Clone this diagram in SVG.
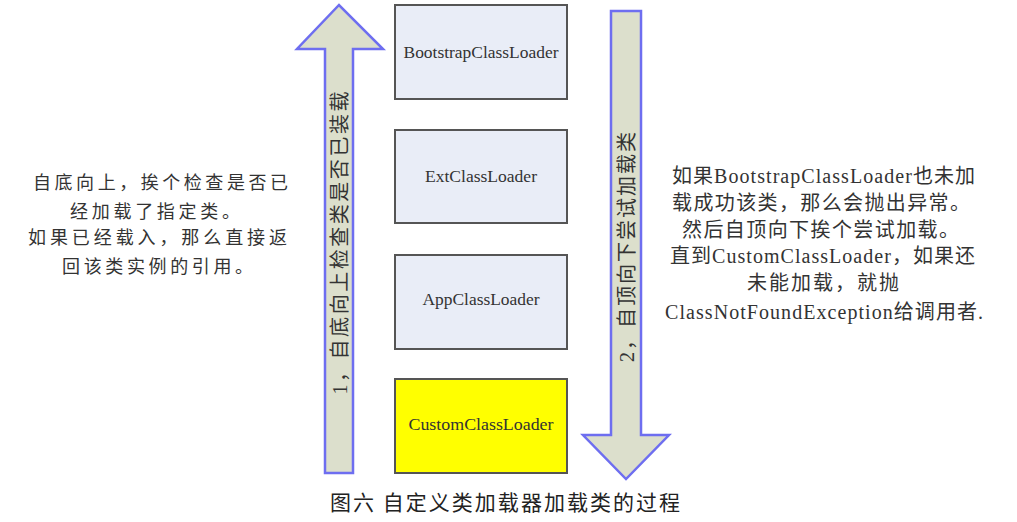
<svg xmlns="http://www.w3.org/2000/svg" width="1017" height="522" viewBox="0 0 1017 522">
<style>
.box{stroke:#555;stroke-width:2;fill:#e9edf7}
.cust{fill:#ffff00}
.lbl{font-family:"Liberation Serif","Noto Sans CJK SC",serif;font-size:17px;fill:#333;text-anchor:middle}
.arrow{fill:#dcdfcc;stroke:#6e6ef0;stroke-width:2.5;stroke-linejoin:miter}
.atxt{font-family:"Liberation Serif","Noto Sans CJK SC",sans-serif;font-size:20px;fill:#333;text-anchor:middle;dominant-baseline:central}
.note{font-family:"Noto Sans CJK SC",sans-serif;font-size:18px;fill:#333}
.rnote{font-family:"Liberation Serif","Noto Sans CJK SC",serif;font-size:20px;fill:#333}
.cap{font-family:"Noto Sans CJK SC",sans-serif;font-size:21px;fill:#222}
</style>
<rect width="1017" height="522" fill="#fff"/>
<g id="connectors">
<g id="arrow-up">
<polygon class="arrow" points="325,473 325,49 297,49 339,5 383,49 353,49 353,473"/>
<text class="atxt" transform="translate(340,243) rotate(-90)" textLength="303" lengthAdjust="spacing">1，自底向上检查类是否已装载</text>
</g>
<g id="arrow-down">
<polygon class="arrow" points="611,11 641,11 641,435 669,435 626,479 583,435 611,435"/>
<text class="atxt" transform="translate(627,247) rotate(-90)" textLength="230" lengthAdjust="spacing">2，自顶向下尝试加载类</text>
</g>
</g>
<g id="bootstrap">
<rect class="box" x="395" y="5" width="172" height="94"/>
<text class="lbl" x="481" y="58" textLength="155" lengthAdjust="spacingAndGlyphs">BootstrapClassLoader</text>
</g>
<g id="ext">
<rect class="box" x="395" y="130" width="172" height="93"/>
<text class="lbl" x="481" y="182" textLength="112" lengthAdjust="spacingAndGlyphs">ExtClassLoader</text>
</g>
<g id="app">
<rect class="box" x="395" y="255" width="172" height="94"/>
<text class="lbl" x="481" y="305" textLength="117" lengthAdjust="spacingAndGlyphs">AppClassLoader</text>
</g>
<g id="custom">
<rect class="box cust" x="395" y="379" width="172" height="94"/>
<text class="lbl" x="481" y="430" textLength="145" lengthAdjust="spacingAndGlyphs">CustomClassLoader</text>
</g>
<g id="note-left">
<text class="note" x="33" y="189" textLength="255" lengthAdjust="spacing">自底向上，挨个检查是否已</text>
<text class="note" x="70" y="218" textLength="170" lengthAdjust="spacing">经加载了指定类。</text>
<text class="note" x="28" y="244" textLength="259" lengthAdjust="spacing">如果已经载入，那么直接返</text>
<text class="note" x="62" y="273" textLength="191" lengthAdjust="spacing">回该类实例的引用。</text>
</g>
<g id="note-right">
<text class="rnote" x="672" y="183" textLength="303" lengthAdjust="spacing">如果BootstrapClassLoader也未加</text>
<text class="rnote" x="672" y="210" textLength="298" lengthAdjust="spacing">载成功该类，那么会抛出异常。</text>
<text class="rnote" x="682" y="237" textLength="277" lengthAdjust="spacing">然后自顶向下挨个尝试加载。</text>
<text class="rnote" x="670" y="263" textLength="305" lengthAdjust="spacing">直到CustomClassLoader，如果还</text>
<text class="rnote" x="747" y="290" textLength="152" lengthAdjust="spacing">未能加载，就抛</text>
<text class="rnote" x="665" y="319" textLength="318" lengthAdjust="spacing">ClassNotFoundException给调用者.</text>
</g>
<g id="caption">
<text class="cap" x="330" y="510" textLength="350" lengthAdjust="spacing">图六 自定义类加载器加载类的过程</text>
</g>
</svg>
